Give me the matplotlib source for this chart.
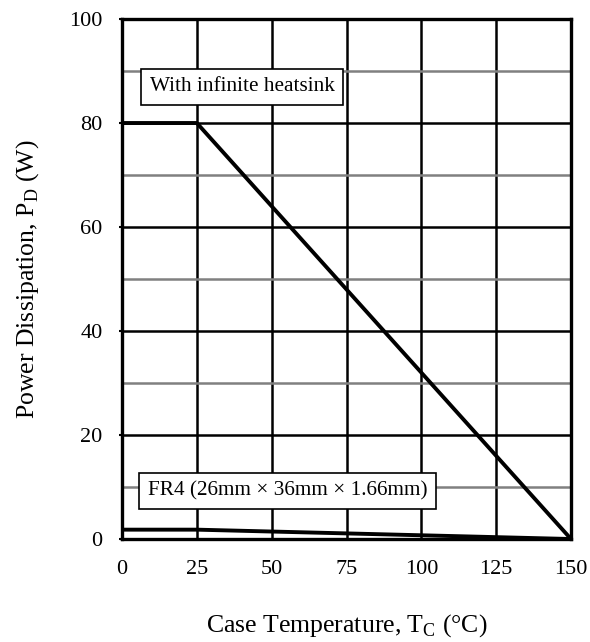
import numpy as np
import matplotlib.pyplot as plt
from matplotlib.ticker import MultipleLocator

plt.rcParams['font.family'] = ['Liberation Serif', 'DejaVu Serif']
plt.rcParams['mathtext.fontset'] = 'custom'
plt.rcParams['mathtext.rm'] = 'Liberation Serif'

# derating curves: case temperature (degC) vs allowed power (W)
tc_heatsink = [0, 25, 150]
pd_heatsink = [80, 80, 0]
tc_fr4 = [0, 25, 150]
pd_fr4 = [1.8, 1.8, 0]

x_ticks = [0, 25, 50, 75, 100, 125, 150]
y_ticks = [0, 20, 40, 60, 80, 100]

fig = plt.figure(figsize=(5.9, 6.42), dpi=100)
ax = fig.add_axes([0.2068, 0.1604, 0.761, 0.81])

ax.set_xlim(0, 150)
ax.set_ylim(0, 100)
ax.set_xticks(x_ticks)
ax.set_yticks(y_ticks)
ax.yaxis.set_minor_locator(MultipleLocator(10))

# grey minor lines first, black major lines on top
ax.grid(which='minor', axis='y', color='#808080', linewidth=1.8)
ax.grid(which='major', color='black', linewidth=1.8)
ax.set_axisbelow(True)

ax.plot(tc_heatsink, pd_heatsink, color='black', linewidth=2.8, solid_capstyle='butt')
ax.plot(tc_fr4, pd_fr4, color='black', linewidth=2.8, solid_capstyle='butt')

for s in ax.spines.values():
    s.set_linewidth(2.4)

ax.tick_params(axis='x', which='major', length=0, labelsize=16, pad=15)
ax.tick_params(axis='y', which='major', direction='out', length=2, width=1.5, labelsize=16, pad=12)
ax.tick_params(which='minor', length=0)

ax.set_xlabel('Case Temperature, T$_\\mathrm{C}$ (\u00b0C)', fontsize=18.5, labelpad=24)
ax.set_ylabel('Power Dissipation, P$_\\mathrm{D}$ (W)', fontsize=18.5, labelpad=20)

box = dict(boxstyle='square,pad=0.4', facecolor='white', edgecolor='black', linewidth=1.2)
ax.text(9.2, 87.0, 'With infinite heatsink', fontsize=15.3, va='center', ha='left', bbox=box)
ax.text(8.6, 9.2, 'FR4 (26mm \u00d7 36mm \u00d7 1.66mm)', fontsize=15.3, va='center', ha='left', bbox=box)

fig.savefig('out.png', dpi=100)
